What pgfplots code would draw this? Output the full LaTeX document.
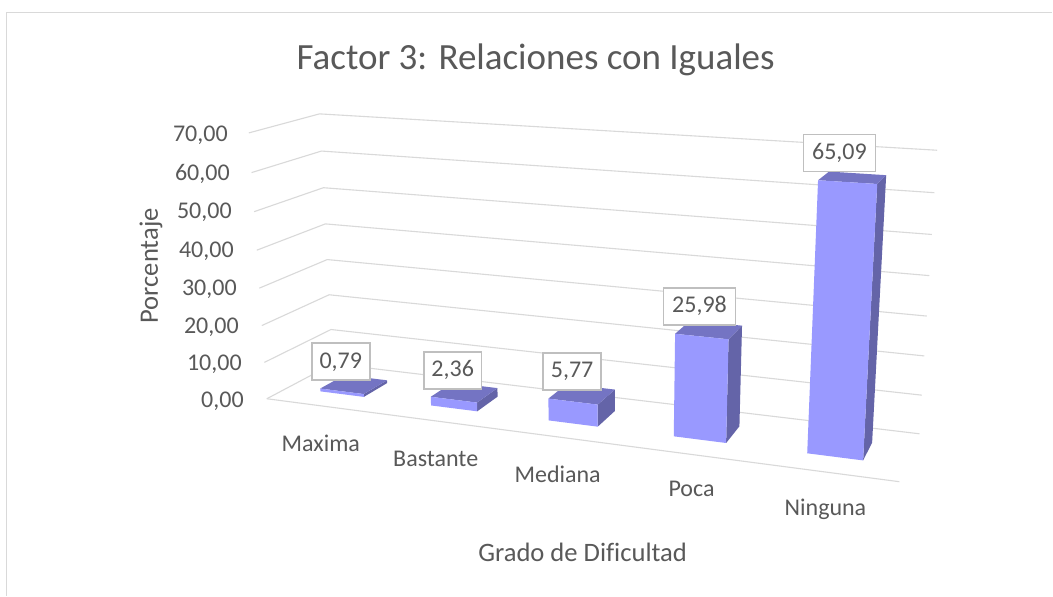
\documentclass[border=0pt]{standalone}
\usepackage{pgfplots}
\usepackage{pgfplotstable}
\pgfplotsset{compat=1.18}
\usepackage{fontspec}
\setmainfont{Carlito}[Ligatures=NoCommon]
\definecolor{txt}{HTML}{595959}
\definecolor{gridc}{HTML}{D9D9D9}
\definecolor{barfront}{HTML}{9999FF}
\definecolor{bartop}{HTML}{7474C3}
\definecolor{barside}{HTML}{6464A8}
\definecolor{boxline}{HTML}{BFBFBF}
% bar faces: du = offset from bar centre, v = depth, k = share of the value
\pgfplotstableread{
du v k
-0.04 0.31 0
0.04 0.31 0
0.04 0.31 1
-0.04 0.31 1
}\frontface
\pgfplotstableread{
du v k
-0.04 0.31 1
0.04 0.31 1
0.04 0.69 1
-0.04 0.69 1
}\topface
\pgfplotstableread{
du v k
0.04 0.31 0
0.04 0.69 0
0.04 0.69 1
0.04 0.31 1
}\sideface
\pgfplotstableread{
u v
0 0
0 1
1 1
}\gridpath
\newcommand{\gridlevel}[1]{%
  \addplot[gridc,line width=1.1pt] table[x expr={px(\thisrow{u},\thisrow{v},#1)},y expr={py(\thisrow{u},\thisrow{v},#1)}] {\gridpath};
}
\newcommand{\barface}[4]{%
  \addplot[fill=#4,draw=none] table[x expr={px(#1+\thisrow{du},\thisrow{v},\thisrow{k}*#2)},y expr={py(#1+\thisrow{du},\thisrow{v},\thisrow{k}*#2)}] {#3};
}
\newcommand{\drawbar}[2]{%
  \barface{#1}{#2}{\sideface}{barside}
  \barface{#1}{#2}{\topface}{bartop}
  \barface{#1}{#2}{\frontface}{barfront}
}
\newcommand{\vallabel}[4]{\node[draw=boxline,line width=1.6pt,fill=white,text=txt,font=\fontsize{24}{28}\selectfont,minimum width=#4,minimum height=37pt,inner sep=0pt] at (axis cs:#1,#2) {#3};}
\newcommand{\ticklab}[3]{\node[anchor=east,text=txt,font=\fontsize{24}{28}\selectfont,inner sep=0pt] at (axis cs:#1,#2) {#3};}
\newcommand{\catlab}[3]{\node[text=txt,font=\fontsize{24}{28}\selectfont,inner sep=0pt] at (axis cs:#1,#2) {#3};}
\begin{document}
\begin{tikzpicture}
\begin{axis}[
  scale only axis,width=1053pt,height=596pt,
  xmin=0,xmax=1053,ymin=0,ymax=596,y dir=reverse,
  hide axis,clip=false,
  declare function={
    pw(\u,\v,\z)=1-0.149*\u+0.0834*\v-0.05*\z/70;
    px(\u,\v,\z)=(267+498.9*\u+93.8*\v-30.45*\z/70)/pw(\u,\v,\z);
    py(\u,\v,\z)=(399+11.2*\u-4.6*\v-272.65*\z/70-4*\v*(1-\u)*\z/70)/pw(\u,\v,\z);
  },
]
% page and frame
\addplot[fill=white,draw=none] coordinates {(0,0)(1053,0)(1053,596)(0,596)};
\addplot[gridc,line width=1.4pt] coordinates {(6.5,596)(6.5,12.5)(1053,12.5)};
% gridlines
\gridlevel{0}\gridlevel{10}\gridlevel{20}\gridlevel{30}\gridlevel{40}\gridlevel{50}\gridlevel{60}\gridlevel{70}
\addplot[gridc,line width=1.1pt] table[x expr={px(\thisrow{u},0,0)},y expr={py(\thisrow{u},0,0)}] {
u
0
1
};
% bars: centre on the floor, value
\drawbar{0.1}{0.79}
\drawbar{0.3}{2.36}
\drawbar{0.5}{5.77}
\drawbar{0.7}{25.98}
\drawbar{0.9}{65.09}
% labels
\vallabel{341}{362}{0,79}{58pt}
\vallabel{453}{370.5}{2,36}{58pt}
\vallabel{572.5}{371.5}{5,77}{58pt}
\vallabel{700}{306.5}{25,98}{72pt}
\vallabel{840}{153}{65,09}{72pt}
\ticklab{228}{135.5}{70,00}
\ticklab{230}{174.5}{60,00}
\ticklab{232}{212.5}{50,00}
\ticklab{234}{251.5}{40,00}
\ticklab{237}{289.5}{30,00}
\ticklab{239}{327.5}{20,00}
\ticklab{242}{364.5}{10,00}
\ticklab{244}{401.5}{0,00}
\catlab{321}{444}{Maxima}
\catlab{436}{459}{Bastante}
\catlab{558}{475}{Mediana}
\catlab{692}{489}{Poca}
\catlab{826}{510}{Ninguna}
\node[text=txt,font=\fontsize{37}{42}\selectfont,inner sep=0pt] at (axis cs:536,60) {Factor 3: Relaciones con Iguales};
\node[text=txt,font=\fontsize{26.6}{30}\selectfont,inner sep=0pt] at (axis cs:583,553) {Grado de Dificultad};
\node[text=txt,font=\fontsize{26.6}{30}\selectfont,inner sep=0pt,rotate=90] at (axis cs:151,266) {Porcentaje};
\end{axis}
\end{tikzpicture}
\end{document}
